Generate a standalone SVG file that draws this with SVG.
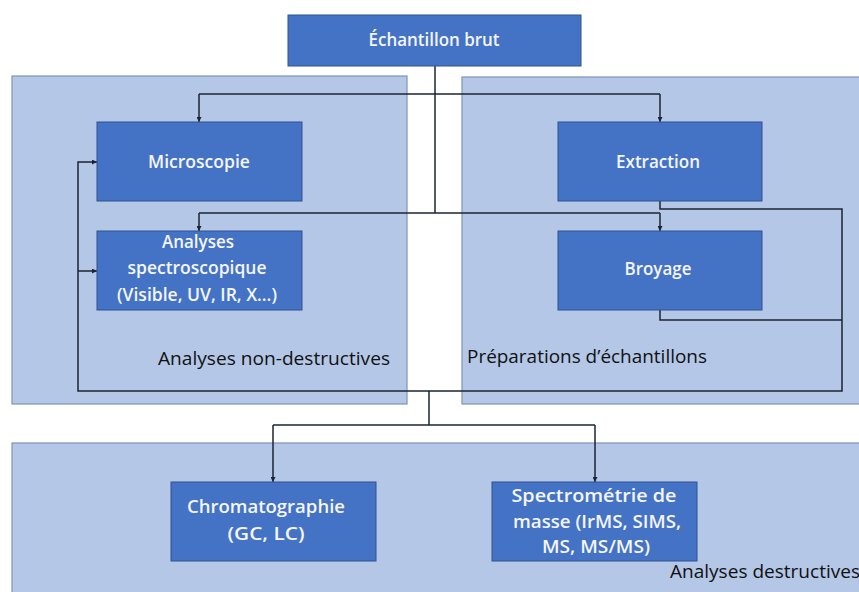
<svg xmlns="http://www.w3.org/2000/svg" width="859" height="592" viewBox="0 0 859 592">
<defs>
<marker id="arr" viewBox="0 0 6 6" refX="6" refY="3" markerWidth="5" markerHeight="5" orient="auto" markerUnits="userSpaceOnUse">
<path d="M0,0 L6,3 L0,6 z" fill="#1c2433"/>
</marker>
<style>
.panel{fill:#b4c7e7;stroke:#7d93bb;stroke-width:1.2}
.node{fill:#4472c4;stroke:#2f528f;stroke-width:1}
.nt{font-family:"Open Sans","Liberation Sans",sans-serif;font-weight:600;font-size:17.5px;fill:#f4f6fb;text-anchor:middle}
.pt{font-family:"Open Sans","Liberation Sans",sans-serif;font-size:18px;fill:#111111}
.ln{fill:none;stroke:#1c2433;stroke-width:1.5}
</style>
</defs>
<rect width="859" height="592" fill="#ffffff"/>
<g id="panel-non-destructives">
<rect class="panel" x="12" y="76" width="395" height="328"/>
<text class="pt" x="158" y="365" textLength="232" lengthAdjust="spacingAndGlyphs">Analyses non-destructives</text>
</g>
<g id="panel-preparations">
<rect class="panel" x="462" y="77" width="400" height="327"/>
<text class="pt" x="467" y="363" textLength="240" lengthAdjust="spacingAndGlyphs">Préparations d’échantillons</text>
</g>
<g id="panel-destructives">
<rect class="panel" x="12" y="443" width="850" height="152"/>
<text class="pt" x="670" y="578" font-size="19" textLength="190" lengthAdjust="spacingAndGlyphs">Analyses destructives</text>
</g>
<g id="connectors">
<path class="ln" d="M435,66 V213"/>
<path class="ln" d="M199,94 H660"/>
<path class="ln" d="M199,94 V122" marker-end="url(#arr)"/>
<path class="ln" d="M660,94 V122" marker-end="url(#arr)"/>
<path class="ln" d="M199,213 H660"/>
<path class="ln" d="M199,213 V231" marker-end="url(#arr)"/>
<path class="ln" d="M660,213 V231" marker-end="url(#arr)"/>
<path class="ln" d="M660,201 V209 H842 V391 H78 V162 H97" marker-end="url(#arr)"/>
<path class="ln" d="M660,310 V320 H842"/>
<path class="ln" d="M78,271 H97" marker-end="url(#arr)"/>
<path class="ln" d="M429,391 V425"/>
<path class="ln" d="M273,425 H595"/>
<path class="ln" d="M273,425 V482" marker-end="url(#arr)"/>
<path class="ln" d="M595,425 V482" marker-end="url(#arr)"/>
</g>
<g id="echantillon-brut">
<rect class="node" x="288" y="15" width="293" height="51"/>
<text class="nt" x="434" y="46" textLength="131" lengthAdjust="spacingAndGlyphs">Échantillon brut</text>
</g>
<g id="microscopie">
<rect class="node" x="97" y="122" width="205" height="79"/>
<text class="nt" x="199" y="168" textLength="102" lengthAdjust="spacingAndGlyphs">Microscopie</text>
</g>
<g id="analyses-spectroscopique">
<rect class="node" x="97" y="231" width="205" height="79"/>
<text class="nt" x="198" y="248" textLength="72" lengthAdjust="spacingAndGlyphs">Analyses</text>
<text class="nt" x="197" y="274" textLength="139" lengthAdjust="spacingAndGlyphs">spectroscopique</text>
<text class="nt" x="197" y="301" textLength="160" lengthAdjust="spacingAndGlyphs">(Visible, UV, IR, X…)</text>
</g>
<g id="extraction">
<rect class="node" x="558" y="122" width="204" height="79"/>
<text class="nt" x="658" y="168" textLength="84" lengthAdjust="spacingAndGlyphs">Extraction</text>
</g>
<g id="broyage">
<rect class="node" x="558" y="231" width="204" height="79"/>
<text class="nt" x="658" y="275" textLength="67" lengthAdjust="spacingAndGlyphs">Broyage</text>
</g>
<g id="chromatographie">
<rect class="node" x="171" y="482" width="205" height="79"/>
<text class="nt" x="266" y="513" textLength="158" lengthAdjust="spacingAndGlyphs">Chromatographie</text>
<text class="nt" x="266" y="540" textLength="77" lengthAdjust="spacingAndGlyphs">(GC, LC)</text>
</g>
<g id="spectrometrie">
<rect class="node" x="492" y="482" width="205" height="79"/>
<text class="nt" x="594" y="502" textLength="165" lengthAdjust="spacingAndGlyphs">Spectrométrie de</text>
<text class="nt" x="597" y="528" textLength="168" lengthAdjust="spacingAndGlyphs">masse (IrMS, SIMS,</text>
<text class="nt" x="596" y="553" textLength="108" lengthAdjust="spacingAndGlyphs">MS, MS/MS)</text>
</g>
</svg>
